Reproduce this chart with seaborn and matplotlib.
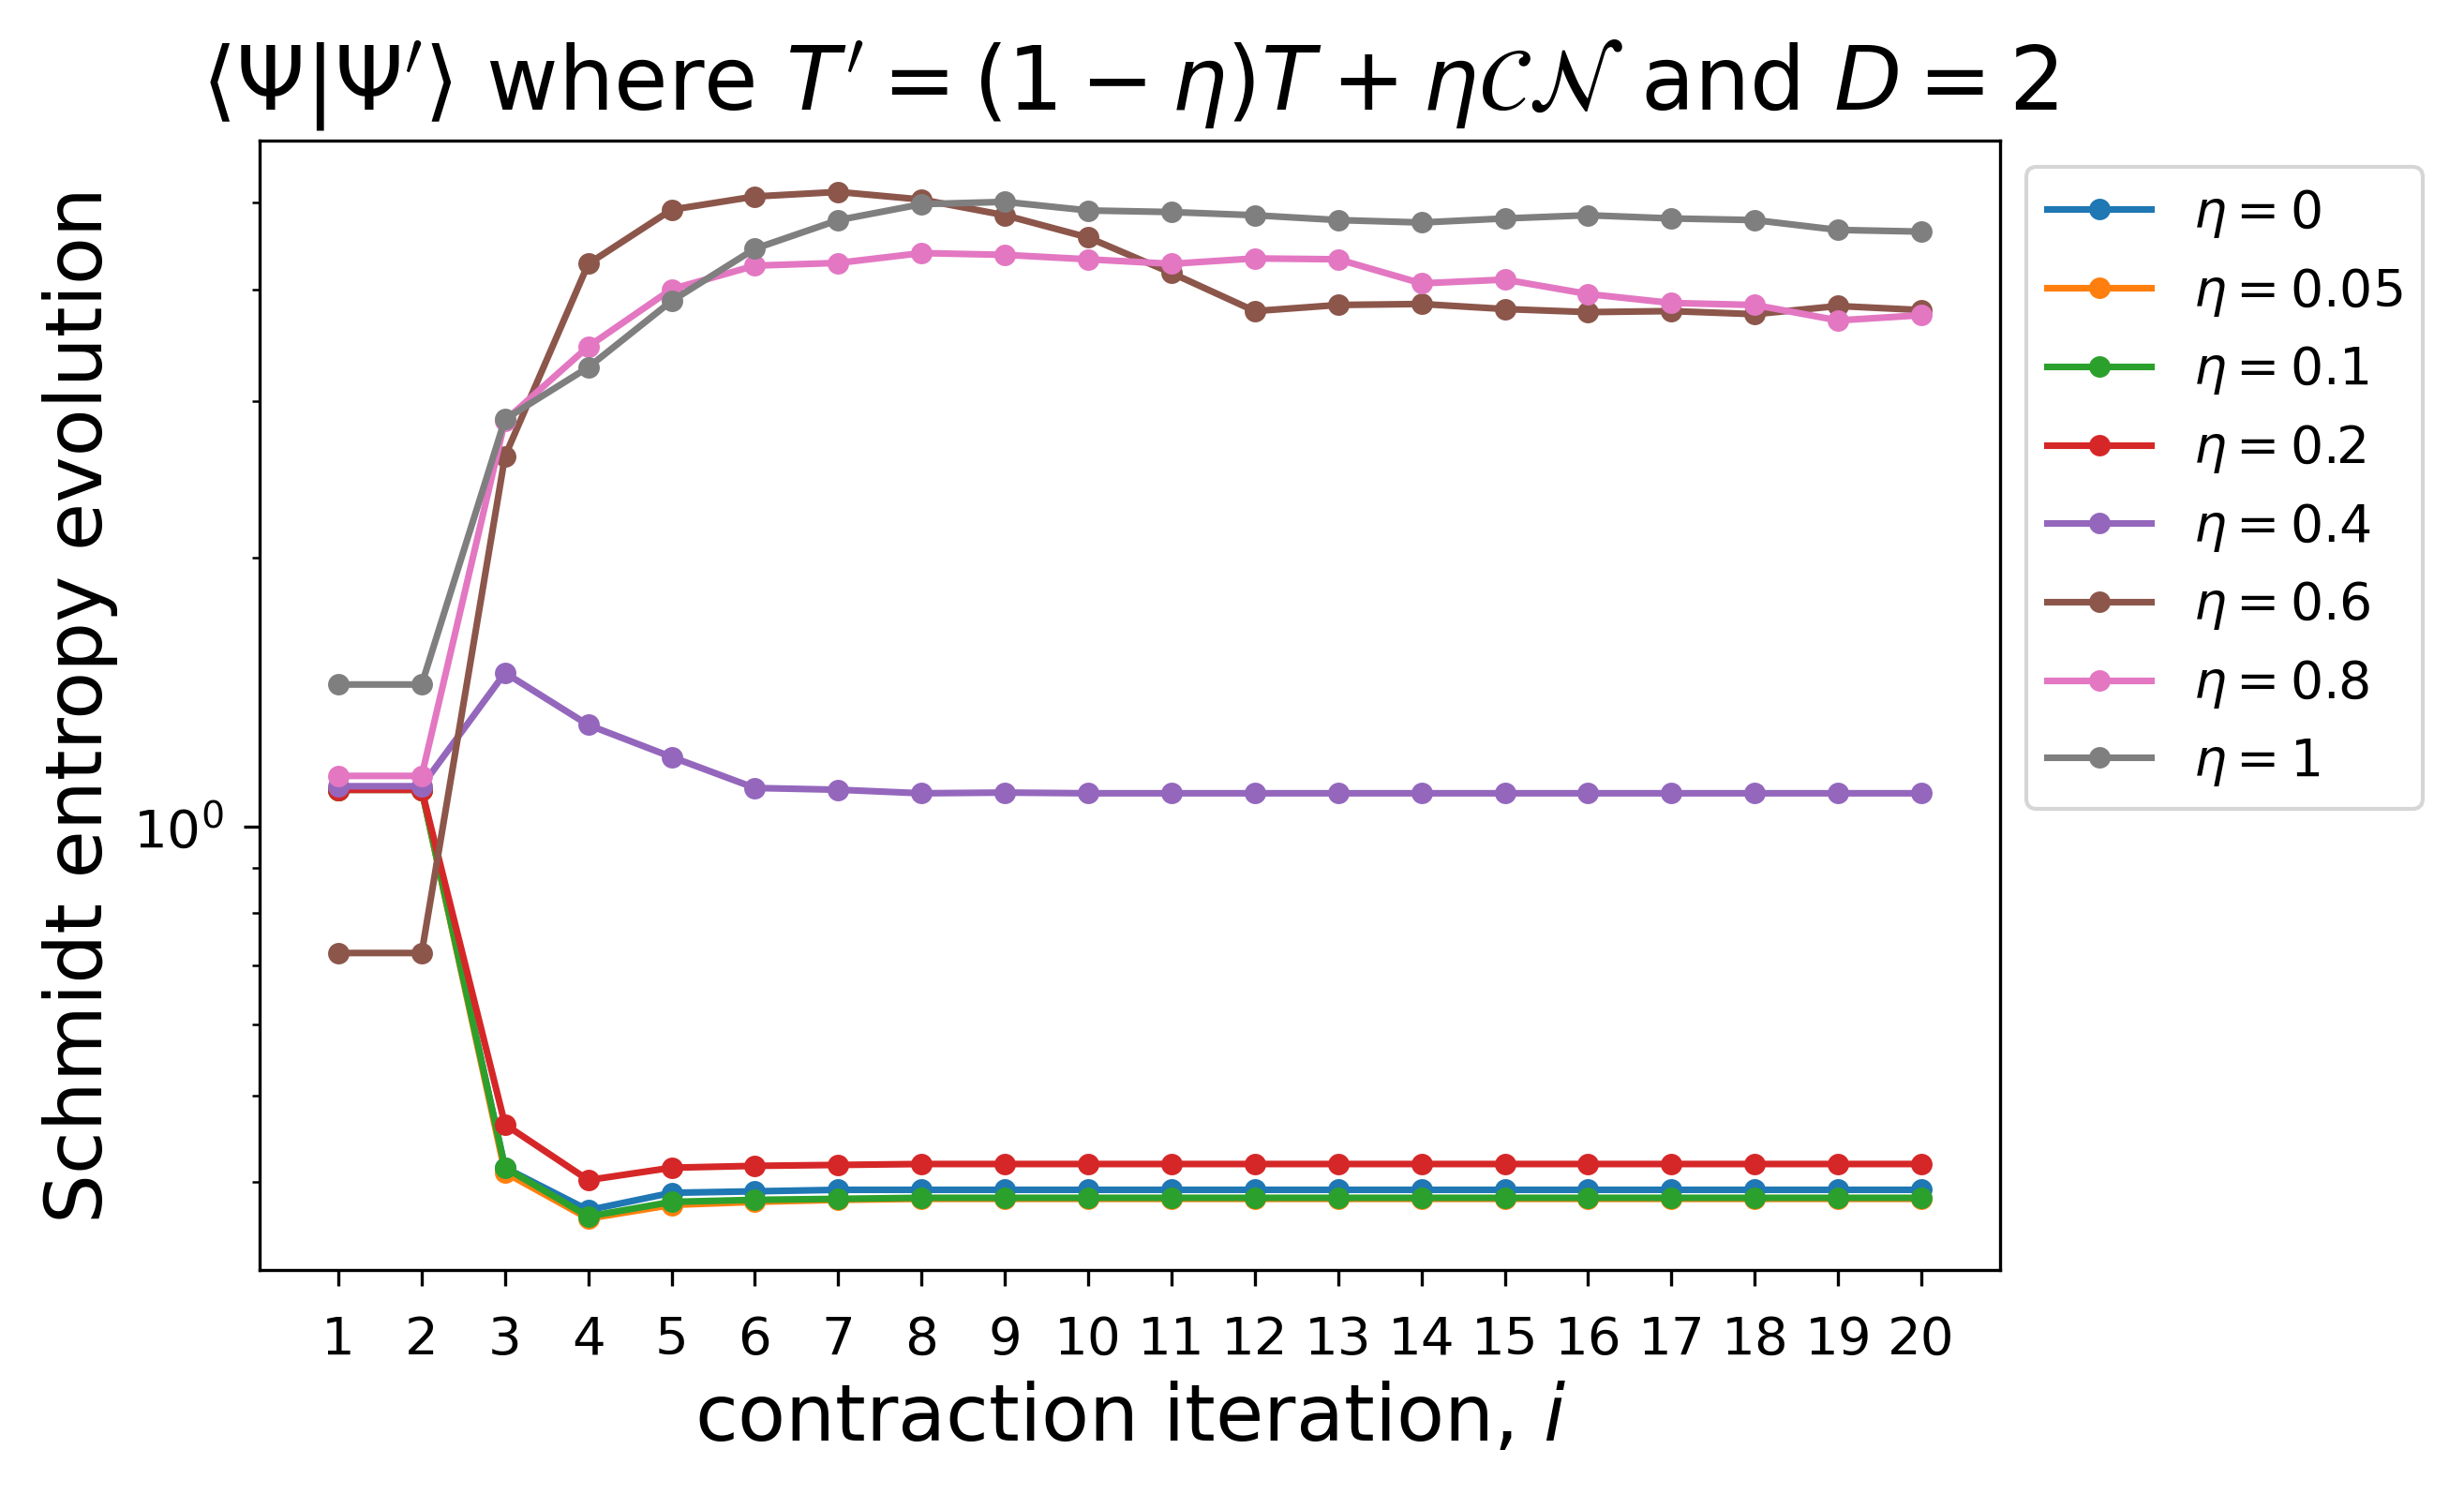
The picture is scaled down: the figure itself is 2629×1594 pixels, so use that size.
import matplotlib
matplotlib.use("Agg")
import matplotlib.pyplot as plt
import seaborn as sns
import numpy as np

iterations = list(range(1, 21))

eta_labels = [r"$\eta=0$", r"$\eta=0.05$", r"$\eta=0.1$", r"$\eta=0.2$",
              r"$\eta=0.4$", r"$\eta=0.6$", r"$\eta=0.8$", r"$\eta=1$"]

eta_0 = [1.10, 1.10, 0.415, 0.372, 0.389, 0.3905, 0.392, 0.392, 0.392, 0.392,
         0.392, 0.392, 0.392, 0.392, 0.392, 0.392, 0.392, 0.392, 0.392, 0.392]
eta_005 = [1.10, 1.10, 0.410, 0.364, 0.377, 0.380, 0.382, 0.383, 0.383, 0.383,
           0.383, 0.383, 0.383, 0.383, 0.383, 0.383, 0.383, 0.383, 0.383, 0.383]
eta_01 = [1.10, 1.10, 0.415, 0.366, 0.380, 0.382, 0.383, 0.384, 0.384, 0.384,
          0.384, 0.384, 0.384, 0.384, 0.384, 0.384, 0.384, 0.384, 0.384, 0.384]
eta_02 = [1.10, 1.10, 0.464, 0.402, 0.415, 0.417, 0.418, 0.419, 0.419, 0.419,
          0.419, 0.419, 0.419, 0.419, 0.419, 0.419, 0.419, 0.419, 0.419, 0.419]
eta_04 = [1.11, 1.11, 1.487, 1.30, 1.197, 1.105, 1.10, 1.09, 1.092, 1.09,
          1.09, 1.09, 1.09, 1.09, 1.09, 1.09, 1.09, 1.09, 1.09, 1.09]
eta_06 = [0.722, 0.722, 2.60, 4.27, 4.91, 5.08, 5.14, 5.04, 4.84, 4.57,
          4.17, 3.78, 3.84, 3.85, 3.80, 3.77, 3.78, 3.75, 3.83, 3.79]
eta_08 = [1.14, 1.14, 2.85, 3.45, 4.00, 4.25, 4.28, 4.39, 4.37, 4.32,
          4.27, 4.33, 4.32, 4.06, 4.10, 3.95, 3.86, 3.84, 3.69, 3.74]
eta_1 = [1.443, 1.443, 2.86, 3.27, 3.88, 4.44, 4.78, 4.98, 5.01, 4.90,
         4.88, 4.84, 4.78, 4.75, 4.80, 4.84, 4.80, 4.78, 4.66, 4.64]

series = [eta_0, eta_005, eta_01, eta_02, eta_04, eta_06, eta_08, eta_1]
colors = sns.color_palette("tab10", 8)

fig = plt.figure(figsize=(2629 / 300, 1594 / 300), dpi=300)
ax = fig.add_axes([0.1052, 0.150, 0.8119 - 0.1052, 0.9059 - 0.150])

for vals, lbl, c in zip(series, eta_labels, colors):
    sns.lineplot(x=iterations, y=vals, ax=ax, label=lbl, color=c,
                 marker="o", markersize=5.5, markeredgewidth=0,
                 linewidth=1.7, legend=False)

ax.set_yscale("log")
ax.set_xticks(iterations)
ax.set_xticklabels([str(i) for i in iterations])
ax.tick_params(axis="both", which="major", labelsize=13.5, length=4)
ax.tick_params(axis="x", which="major", pad=7.5)
ax.tick_params(axis="y", which="major", pad=5)
ax.set_xlabel(r"contraction iteration, $i$", fontsize=20)
ax.set_ylabel("Schmidt entropy evolution", fontsize=20)
ax.set_title(r"$\langle \Psi | \Psi' \rangle$ where $T' = (1-\eta)T + \eta \mathcal{C}\mathcal{N}$ and $D=2$",
             fontsize=22.5, pad=8)
ax.legend(loc="upper left", bbox_to_anchor=(1, 1), fontsize=13.3)

fig.savefig("out.png", dpi=300)
